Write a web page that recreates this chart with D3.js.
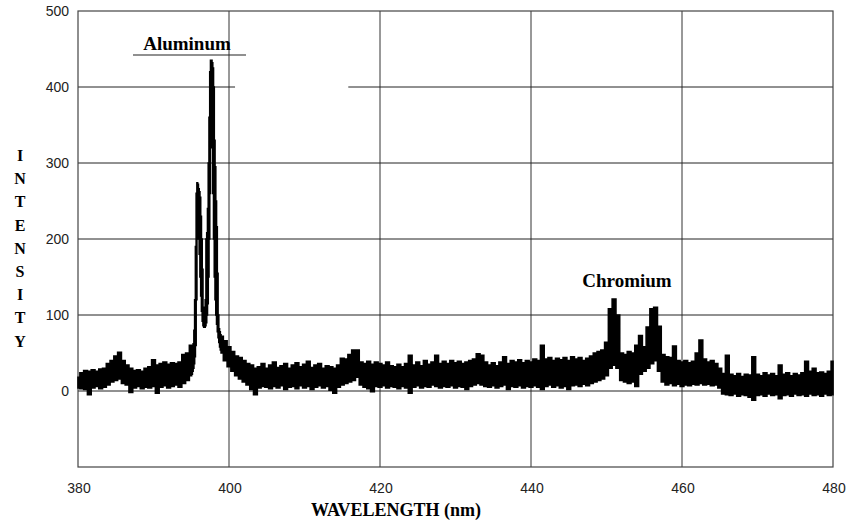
<!DOCTYPE html>
<html><head><meta charset="utf-8">
<script src="https://cdn.jsdelivr.net/npm/d3@7"></script>
<style>body{margin:0;background:#fff}svg{display:block}</style>
</head><body>
<svg id="c" width="849" height="523"></svg>
<script>
const xTicks = [380, 400, 420, 440, 460, 480];
const yTicks = [0, 100, 200, 300, 400, 500];
const gridX = [400, 420, 440, 460];
const gridY = [100, 200, 300, 400];
// spectrum: wavelength (nm) with lower / upper edge of the noisy trace
const wavelength = [
380.0,380.5,381.0,381.5,382.0,382.5,383.0,383.5,384.0,384.5,
385.0,385.5,386.0,386.5,387.0,387.5,388.0,388.5,389.0,389.5,
390.0,390.5,391.0,391.5,392.0,392.5,393.0,393.5,394.0,394.5,
395.0,
395.1,395.2,395.3,395.4,395.5,395.6,395.7,395.8,395.9,
396.0,396.1,396.2,396.3,396.4,396.5,396.6,396.7,396.8,396.9,
397.0,397.1,397.2,397.3,397.4,397.5,397.6,397.7,397.8,397.9,
398.0,398.1,398.2,398.3,398.4,398.5,398.6,398.7,398.8,398.9,
399.0,
399.5,400.0,400.5,401.0,401.5,402.0,402.5,403.0,403.5,404.0,
404.5,405.0,405.5,406.0,406.5,407.0,407.5,408.0,408.5,409.0,
409.5,410.0,410.5,411.0,411.5,412.0,412.5,413.0,413.5,414.0,
414.5,415.0,415.5,416.0,416.5,417.0,417.5,418.0,418.5,419.0,
419.5,420.0,420.5,421.0,421.5,422.0,422.5,423.0,423.5,424.0,
424.5,425.0,425.5,426.0,426.5,427.0,427.5,428.0,428.5,429.0,
429.5,430.0,430.5,431.0,431.5,432.0,432.5,433.0,433.5,434.0,
434.5,435.0,435.5,436.0,436.5,437.0,437.5,438.0,438.5,439.0,
439.5,440.0,440.5,441.0,441.5,442.0,442.5,443.0,443.5,444.0,
444.5,445.0,445.5,446.0,446.5,447.0,447.5,448.0,448.5,449.0,
449.5,450.0,450.5,451.0,451.5,452.0,452.5,453.0,453.5,454.0,
454.5,455.0,455.5,456.0,456.5,457.0,457.5,458.0,458.5,459.0,
459.5,460.0,460.5,461.0,461.5,462.0,462.5,463.0,463.5,464.0,
464.5,465.0,465.5,466.0,466.5,467.0,467.5,468.0,468.5,469.0,
469.5,470.0,470.5,471.0,471.5,472.0,472.5,473.0,473.5,474.0,
474.5,475.0,475.5,476.0,476.5,477.0,477.5,478.0,478.5,479.0,
479.5,480.0
];
const lower = [
4,3,2,-5,4,6,3,5,8,12,
14,16,10,8,-2,4,6,3,5,4,
6,-3,5,7,4,6,8,5,10,14,
20,
22,26,30,36,45,60,120,200,230,
210,180,150,125,105,92,86,84,84,86,
90,100,115,150,200,260,330,360,320,260,
200,150,120,100,88,78,70,64,58,54,
50,
40,32,26,20,16,12,8,2,-5,4,
6,5,3,6,4,7,2,5,6,3,
7,4,6,2,5,7,4,6,1,-3,
5,8,10,12,14,18,8,5,3,-1,
6,5,7,4,6,5,3,6,4,-3,
5,7,4,6,5,8,6,4,6,5,
7,4,6,5,2,6,8,10,8,6,
5,7,4,6,8,2,6,5,7,4,
6,5,7,5,2,6,8,5,7,4,
6,2,7,8,6,9,7,10,12,14,
16,20,30,34,30,14,12,10,12,6,
22,26,30,36,40,26,12,8,10,7,
9,6,8,7,9,8,10,8,9,7,
8,4,-4,-5,-6,-4,-7,-5,-6,-8,
-12,-6,-5,-7,-4,-6,-5,-10,-6,-5,
-7,-4,-6,-5,-7,-4,-6,-5,-7,-4,
-6,-5
];
const upper = [
18,24,27,26,28,26,29,30,36,40,
46,51,40,34,30,27,28,26,30,32,
41,34,36,38,35,37,36,38,48,50,
60,
55,58,62,80,120,190,260,274,272,
266,262,255,230,200,160,110,96,100,120,
200,208,240,300,360,420,435,435,432,425,
400,330,295,250,216,155,100,82,78,74,
72,
66,58,52,46,44,40,36,34,30,32,
36,30,34,38,31,33,36,30,34,37,
32,35,39,31,34,36,30,33,32,30,
34,43,42,48,54,54,38,36,39,35,
38,36,34,38,33,32,35,32,36,47,
34,38,33,40,35,38,47,36,39,36,
40,37,39,36,38,40,42,49,47,38,
34,37,33,38,45,36,40,38,41,37,
40,38,42,40,60,42,44,40,43,41,
44,40,45,42,44,40,43,46,50,52,
54,64,108,121,100,50,48,52,50,60,
73,58,84,108,110,85,48,45,44,59,
40,38,40,37,39,50,67,42,38,40,
36,30,23,47,22,20,23,19,22,21,
45,22,20,24,21,23,20,34,22,24,
20,23,21,24,39,26,30,24,25,23,
26,39
];
const annotations = ["Aluminum", "Chromium"];

const svg = d3.select("#c");
const L = 78, R = 833, T = 11, B = 467;
const x = d3.scaleLinear().domain([380, 480]).range([L, R]);
const y = d3.scaleLinear().domain([-100, 500]).range([B, T]);
const data = wavelength.map((w, i) => ({w, lo: lower[i], hi: upper[i]}));

// grid
svg.append("g").selectAll("line").data(gridX).join("line")
  .attr("x1", d => x(d)).attr("x2", d => x(d)).attr("y1", T).attr("y2", B)
  .attr("stroke", "#333").attr("stroke-width", 1);
svg.append("g").selectAll("line").data(gridY.filter(d => d !== 400)).join("line")
  .attr("x1", L).attr("x2", R).attr("y1", d => y(d)).attr("y2", d => y(d))
  .attr("stroke", "#222").attr("stroke-width", 1);
[[380, 400.8], [415.8, 480]].forEach(s => {
  svg.append("line").attr("x1", x(s[0])).attr("x2", x(s[1]))
    .attr("y1", y(400)).attr("y2", y(400)).attr("stroke", "#222").attr("stroke-width", 1);
});
svg.append("line").attr("x1", L).attr("x2", R).attr("y1", y(0)).attr("y2", y(0))
  .attr("stroke", "#222").attr("stroke-width", 1);

// frame
svg.append("rect").attr("x", L).attr("y", T).attr("width", R - L).attr("height", B - T)
  .attr("fill", "none").attr("stroke", "#444").attr("stroke-width", 1.2);

// spectrum band
const area = d3.area().curve(d3.curveStep)
  .x(d => x(d.w)).y0(d => y(d.lo)).y1(d => y(d.hi));
svg.append("path").datum(data).attr("d", area)
  .attr("fill", "#000").attr("stroke", "#000").attr("stroke-width", 1.6)
  .attr("stroke-linejoin", "miter");

// tick labels
const tickFont = "'Liberation Sans', Arial, sans-serif";
svg.append("g").selectAll("text").data(yTicks).join("text")
  .attr("x", 69).attr("y", d => y(d) + 5)
  .attr("text-anchor", "end").attr("font-family", tickFont).attr("font-size", 14)
  .attr("fill", "#222").text(d => d);
svg.append("g").selectAll("text").data(xTicks).join("text")
  .attr("x", d => x(d) + 1).attr("y", 493)
  .attr("text-anchor", "middle").attr("font-family", tickFont).attr("font-size", 14)
  .attr("fill", "#222").text(d => d);

const serif = "'Liberation Serif', 'Times New Roman', serif";
svg.append("text").attr("x", 396).attr("y", 516).attr("text-anchor", "middle")
  .attr("font-family", serif).attr("font-weight", "bold").attr("font-size", 18)
  .text("WAVELENGTH (nm)");

svg.append("g").selectAll("text").data("INTENSITY".split("")).join("text")
  .attr("x", 20).attr("y", (d, i) => 161 + i * 23.2).attr("text-anchor", "middle")
  .attr("font-family", serif).attr("font-weight", "bold").attr("font-size", 16)
  .text(d => d);

// annotations
svg.append("text").attr("x", 187).attr("y", 50).attr("text-anchor", "middle")
  .attr("font-family", serif).attr("font-weight", "bold").attr("font-size", 19)
  .text(annotations[0]);
svg.append("line").attr("x1", 133).attr("x2", 246).attr("y1", 55).attr("y2", 55)
  .attr("stroke", "#222").attr("stroke-width", 1.2);
svg.append("text").attr("x", 627).attr("y", 287).attr("text-anchor", "middle")
  .attr("font-family", serif).attr("font-weight", "bold").attr("font-size", 19)
  .text(annotations[1]);
</script>
</body></html>
